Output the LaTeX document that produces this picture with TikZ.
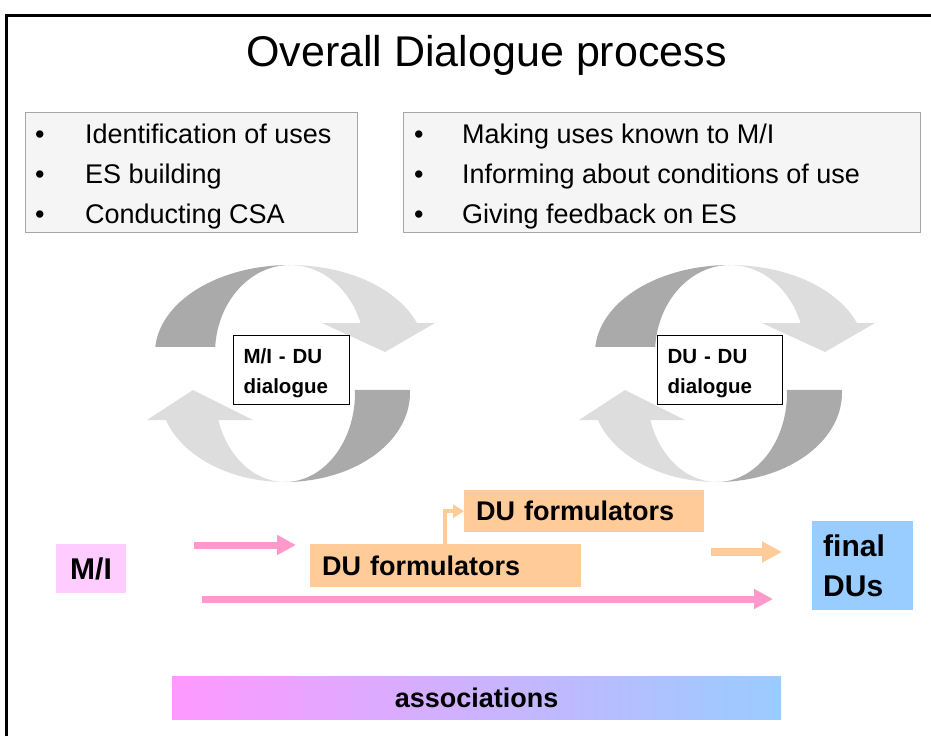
\documentclass[tikz,border=0pt]{standalone}
\usepackage{fontspec}
\setmainfont{Liberation Sans}
\usetikzlibrary{arrows.meta,calc}
\definecolor{cpink}{HTML}{FF99CC}
\definecolor{corange}{HTML}{FFCC99}
\definecolor{cblue}{HTML}{99CCFF}
\definecolor{cmi}{HTML}{FFCCFF}
\definecolor{cmag}{HTML}{FF99FF}
\definecolor{cdark}{RGB}{170,170,170}
\definecolor{clight}{RGB}{221,221,221}
\definecolor{cbox}{RGB}{245,245,245}
\definecolor{cboxline}{RGB}{166,166,166}
\newcommand{\fsz}[2]{\fontsize{#1}{#2}\selectfont}
\newcommand{\topcrescent}[1]{%
  \begin{scope}[shift={(#1,0)}]
    \fill[cdark] plot[domain=176:90,samples=40,variable=\t] ({290+135*cos(\t)},{353-88*sin(\t)})
      -- plot[domain=90:176,samples=40,variable=\t] ({290+75*cos(\t)},{353-88*sin(\t)}) -- cycle;
    \fill[clight] plot[domain=90:20,samples=40,variable=\t] ({290+135*cos(\t)},{353-88*sin(\t)})
      -- plot[domain=20:90,samples=40,variable=\t] ({290+75*cos(\t)},{353-88*sin(\t)}) -- cycle;
    \fill[clight] (322,323) -- (435,323) -- (385,352) -- cycle;
  \end{scope}}
\newcommand{\bottomcrescent}[1]{%
  \begin{scope}[shift={(#1,0)}]
    \fill[cdark] plot[domain=2:-90,samples=40,variable=\t] ({285+125*cos(\t)},{393-89*sin(\t)})
      -- plot[domain=-90:2,samples=40,variable=\t] ({285+70*cos(\t)},{393-89*sin(\t)}) -- cycle;
    \fill[clight] plot[domain=-90:-162.4,samples=40,variable=\t] ({285+125*cos(\t)},{393-89*sin(\t)})
      -- plot[domain=-162.4:-90,samples=40,variable=\t] ({285+70*cos(\t)},{393-89*sin(\t)}) -- cycle;
    \fill[clight] (147,420) -- (253,420) -- (193,390) -- cycle;
  \end{scope}}
\begin{document}
\begin{tikzpicture}[x=1pt,y=-1pt,
  bulletbox/.style={draw=cboxline,fill=cbox,line width=1pt,anchor=north west,inner sep=0pt},
  bullettext/.style={anchor=base west,inner sep=0pt,font=\fsz{27}{32}},
  dlgbox/.style={draw=black,fill=white,line width=1.3pt,anchor=north west,inner xsep=10pt,inner ysep=0pt,
     align=left,font=\fsz{20.5}{30}\bfseries},
  fillbox/.style={anchor=north west,inner xsep=12pt,inner ysep=0pt,align=left,font=\fsz{27}{32}\bfseries},
  fatpink/.style={draw=cpink,line width=7pt,-{Triangle[length=19pt,width=19pt]}},
  fatorange/.style={draw=corange,line width=8pt,-{Triangle[length=20pt,width=20pt]}},
  thinorange/.style={draw=corange,line width=4pt,-{Triangle[length=11pt,width=13pt]}}]
\useasboundingbox (0,0) rectangle (931,736);
% frame
\draw[line width=3pt] (6,736) -- (6,15) -- (931,15);
% title
\node[anchor=base,inner sep=0pt,font=\fsz{43}{50}] (title) at (486.5,66) {Overall Dialogue process};
% bullet boxes
\node[bulletbox,minimum width=332pt,minimum height=120pt] (lbox) at (25,112) {};
\node[bulletbox,minimum width=517pt,minimum height=120pt] (rbox) at (403,112) {};
\foreach \txt [count=\i] in {Identification of uses,ES building,Conducting CSA}{
  \node[bullettext] (lb\i) at (35,{103+40*\i}) {•};
  \node[bullettext] (lt\i) at (85,{103+40*\i}) {\txt};
}
\foreach \txt [count=\i] in {Making uses known to M/I,Informing about conditions of use,Giving feedback on ES}{
  \node[bullettext] (rb\i) at (414,{103+40*\i}) {•};
  \node[bullettext] (rt\i) at (462,{103+40*\i}) {\txt};
}
% cycles
\topcrescent{0}
\bottomcrescent{0}
\topcrescent{440}
\bottomcrescent{432}
\node[dlgbox,minimum width=116pt,minimum height=69pt,text width=96pt] (dlg1) at (233,335) {\rule{0pt}{21pt}M/I - DU\\dialogue};
\node[dlgbox,minimum width=125pt,minimum height=69pt,text width=105pt] (dlg2) at (657,335) {\rule{0pt}{21pt}DU - DU\\dialogue};
% bottom row
\node[fill=cmi,minimum width=70pt,minimum height=49pt,inner sep=0pt,font=\fsz{30}{36}\bfseries] (mi) at (91,568.5) {M/I};
\node[fillbox,fill=corange,minimum width=271pt,minimum height=43pt,text width=247pt] (du1) at (310,544) {DU formulators};
\node[fillbox,fill=corange,minimum width=240pt,minimum height=42pt,text width=216pt] (du2) at (464,490) {DU formulators};
\node[fill=cblue,anchor=north west,minimum width=101pt,minimum height=89pt,inner xsep=11pt,inner ysep=0pt,
      text width=79pt,align=left,font=\fsz{30}{40}\bfseries] (final) at (812,521) {final\\DUs};
\node[left color=cmag,right color=cblue,anchor=north west,minimum width=609pt,minimum height=43pt,inner sep=0pt,
      font=\fsz{27}{32}\bfseries] (assoc) at (172,676) {associations};
% connectors
\coordinate (p1s) at (194,545);
\coordinate (p1e) at (296,545);
\coordinate (p2s) at (202,599);
\coordinate (p2e) at (773,599);
\coordinate (o1s) at (711,552);
\coordinate (o1e) at (782,552);
\coordinate (elb) at (445,544);
\draw[fatpink] (p1s) -- (p1e);
\draw[fatpink] (p2s) -- (p2e);
\draw[fatorange] (o1s) -- (o1e);
\draw[thinorange] (elb) |- (du2.west);
\end{tikzpicture}
\end{document}
